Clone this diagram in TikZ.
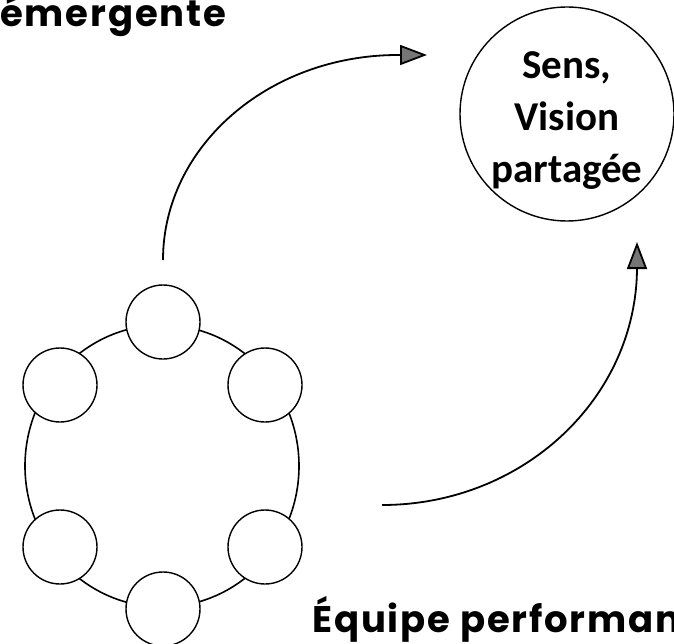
\documentclass[tikz,border=0pt]{standalone}
\usepackage{fontspec}
\setmainfont{Poppins}
\newfontfamily\labelfont[LetterSpace=5]{Poppins}
\newfontfamily\goalfont{Carlito}
\usepackage{tikz}
\usetikzlibrary{arrows.meta}
\definecolor{tipgray}{RGB}{118,118,118}

\begin{document}
\begin{tikzpicture}[
    x=1pt,y=-1pt,
    basic/.style={draw,circle,line width=1.4pt,inner sep=0pt},
    member/.style={basic,fill=white,minimum size=74pt},
    goal/.style={basic,minimum size=214pt},
    flow/.style={line width=1.8pt,-{Triangle[length=27pt,width=20pt,fill=tipgray]}},
    title/.style={font=\labelfont\bfseries\fontsize{37}{44}\selectfont,anchor=base west,inner sep=0pt},
]
    \useasboundingbox (0,0) rectangle (674,644);
    \clip (0,0) rectangle (674,644);

    %team ring
    \draw[line width=1.6pt] (162,466) ellipse [x radius=137,y radius=141];
    \node[member] (m1) at (163,322) {};
    \node[member] (m2) at (60,385) {};
    \node[member] (m3) at (265,385) {};
    \node[member] (m4) at (60,547) {};
    \node[member] (m5) at (265,547) {};
    \node[member] (m6) at (163,609) {};

    %shared vision
    \node[goal] (vision) at (567,114) {};
    \node[align=center,font=\goalfont\bfseries\fontsize{41}{52}\selectfont,inner sep=0pt]
        (visiontext) at ([yshift=-7pt]vision.center) {Sens,\\Vision\\partagée};

    %labels
    \node[title] (emergent) at (0,27) {émergente};
    \node[title] (team) at (312,632) {Équipe performan};

    %arrows
    \coordinate (rise) at (163,260);
    \coordinate (visionin) at (427,55);
    \coordinate (back) at (382,505);
    \coordinate (visionup) at (637,242);
    \draw[flow] (rise) .. controls (163,147) and (268,55) .. (398,55) -- (visionin);
    \draw[flow] (back) .. controls (523,505) and (637,398) .. (637,267) -- (visionup);
\end{tikzpicture}
\end{document}
